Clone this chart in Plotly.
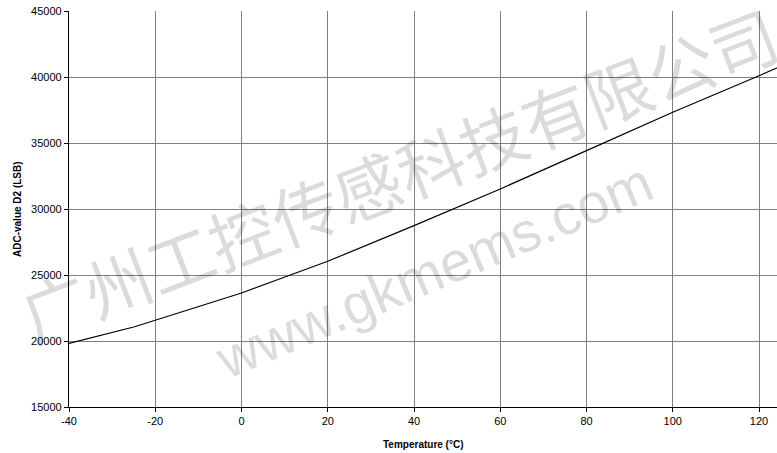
import plotly.graph_objects as go

# Data
temperature_c = [-40, -25, -20, 0, 11, 20, 40, 60, 80, 100, 120, 125]
d2_lsb = [19820, 21060, 21570, 23640, 24960, 26040, 28740, 31520, 34420, 37330, 40100, 40800]

x_ticks = [-40, -20, 0, 20, 40, 60, 80, 100, 120]
y_ticks = [15000, 20000, 25000, 30000, 35000, 40000, 45000]

x_title = "Temperature (°C)"
y_title = "ADC-value D2 (LSB)"
watermark_cn = "广州工控传感科技有限公司"
watermark_web = "www.gkmems.com"

W, H = 777, 453
ml, mr, mt, mb = 69, 0, 11, 46
pw, ph = W - ml - mr, H - mt - mb

fig = go.Figure()
fig.add_trace(go.Scatter(
    x=temperature_c, y=d2_lsb, mode="lines",
    line=dict(color="#000000", width=1.2),
    showlegend=False, hoverinfo="skip",
))

axis_common = dict(
    showgrid=True, gridcolor="#808080", gridwidth=1,
    showline=True, linecolor="#000000", linewidth=1.2,
    ticks="outside", ticklen=4, tickcolor="#000000", tickwidth=1,
    tickfont=dict(family="Liberation Sans, Arial, sans-serif", size=11, color="#000000"),
    zeroline=False,
)

fig.update_xaxes(range=[-40, -40 + pw / 4.3125], tickvals=x_ticks,
                 ticktext=[str(v) for v in x_ticks], **axis_common)
fig.update_yaxes(range=[15000, 45000], tickvals=y_ticks,
                 ticktext=[str(v) for v in y_ticks], **axis_common)

def px_to_paper(px, py):
    return (px - ml) / pw, (H - mb - py) / ph

annos = []
tx, ty = px_to_paper(423, 444)
annos.append(dict(text="<b>" + x_title + "</b>", x=tx, y=ty, xref="paper", yref="paper",
                  xanchor="center", yanchor="middle", showarrow=False,
                  font=dict(family="Liberation Sans, Arial, sans-serif", size=10, color="#000000")))
tx, ty = px_to_paper(17, 209)
annos.append(dict(text="<b>" + y_title + "</b>", x=tx, y=ty, xref="paper", yref="paper",
                  xanchor="center", yanchor="middle", textangle=-90, showarrow=False,
                  font=dict(family="Liberation Sans, Arial, sans-serif", size=10, color="#000000")))
# Watermarks
tx, ty = px_to_paper(398, 172)
annos.append(dict(text=watermark_cn, x=tx, y=ty, xref="paper", yref="paper",
                  xanchor="center", yanchor="middle", textangle=-21, showarrow=False,
                  font=dict(family="Noto Sans CJK SC", size=67, color="rgba(0,0,0,0.14)")))
tx, ty = px_to_paper(434, 270)
annos.append(dict(text=watermark_web, x=tx, y=ty, xref="paper", yref="paper",
                  xanchor="center", yanchor="middle", textangle=-23, showarrow=False,
                  font=dict(family="Liberation Sans, Arial, sans-serif", size=56,
                            color="rgba(0,0,0,0.14)")))

fig.update_layout(
    width=W, height=H,
    margin=dict(l=ml, r=mr, t=mt, b=mb, pad=0),
    paper_bgcolor="#ffffff", plot_bgcolor="#ffffff",
    annotations=annos,
    showlegend=False,
)

fig.write_html("out.html", config={"displayModeBar": False},
               post_script="document.body.style.margin='0';document.body.style.overflow='hidden';")
